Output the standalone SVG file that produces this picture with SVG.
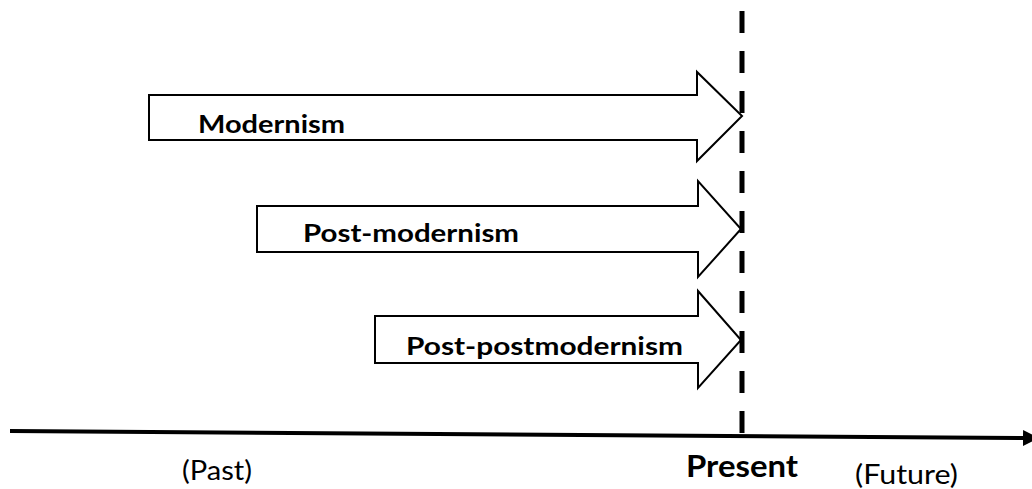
<svg xmlns="http://www.w3.org/2000/svg" width="1032" height="489" viewBox="0 0 1032 489">
<defs>
<style>
.arrow{fill:#fff;stroke:#000;stroke-width:2;stroke-linejoin:miter}
.lbl{font-family:Lato,"Open Sans",sans-serif;font-weight:bold;font-size:25px;fill:#000}
.reg{font-family:Lato,"Open Sans",sans-serif;font-size:26px;fill:#000}
.big{font-family:Lato,"Open Sans",sans-serif;font-weight:bold;font-size:31px;fill:#000}
</style>
<marker id="ah" markerWidth="16" markerHeight="16" refX="1" refY="8" orient="auto" markerUnits="userSpaceOnUse">
<path d="M0,0 L16,8 L0,16 Z" fill="#000"/>
</marker>
</defs>
<rect width="1032" height="489" fill="#fff"/>
<g id="modernism">
<polygon class="arrow" points="149,95 697,95 697,72 742,116 697,161 697,140 149,140"/>
<text class="lbl" x="198" y="133" textLength="147" lengthAdjust="spacingAndGlyphs">Modernism</text>
</g>
<g id="post-modernism">
<polygon class="arrow" points="257,206 698,206 698,181 741,229 698,277 698,252 257,252"/>
<text class="lbl" x="303" y="242" textLength="216" lengthAdjust="spacingAndGlyphs">Post-modernism</text>
</g>
<g id="post-postmodernism">
<polygon class="arrow" points="375,316 698,316 698,291 741,340 698,388 698,363 375,363"/>
<text class="lbl" x="406" y="355" textLength="277" lengthAdjust="spacingAndGlyphs">Post-postmodernism</text>
</g>
<g id="connectors">
<line x1="742" y1="11" x2="742" y2="436" stroke="#000" stroke-width="5" stroke-dasharray="22 18"/>
<line x1="10" y1="431" x2="1024" y2="438" stroke="#000" stroke-width="4" marker-end="url(#ah)"/>
</g>
<g id="labels">
<text class="reg" x="182" y="480" textLength="70" lengthAdjust="spacingAndGlyphs">(Past)</text>
<text class="big" x="686" y="477" textLength="112" lengthAdjust="spacingAndGlyphs">Present</text>
<text class="reg" x="855" y="484" textLength="103" lengthAdjust="spacingAndGlyphs">(Future)</text>
</g>
</svg>
